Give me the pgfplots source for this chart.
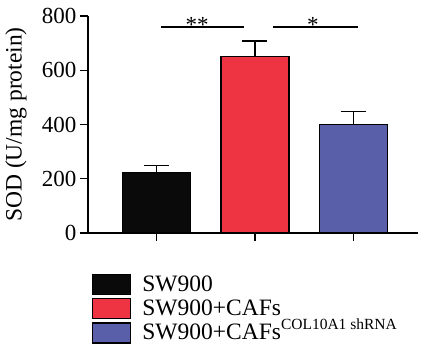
\documentclass[border=0pt]{standalone}
\usepackage{fontspec}
\setmainfont{Liberation Serif}
\usepackage{pgfplots}
\pgfplotsset{compat=1.18}
\definecolor{cblack}{HTML}{0A0A0A}
\definecolor{cred}{HTML}{EE3443}
\definecolor{cblue}{HTML}{5A5FA9}
\begin{document}
\begin{tikzpicture}
\begin{axis}[
  scale only axis, width=330pt, height=217pt,
  xmin=-0.70, xmax=2.66, ymin=0, ymax=800,
  axis x line*=bottom, axis y line*=left,
  axis line style={line width=1.3pt, -},
  xtick={0,1,2}, xticklabels={}, ytick={0,200,400,600,800},
  tick align=outside, major tick length=8pt,
  tick style={line width=1.3pt, black},
  /pgf/number format/assume math mode=true,
  ticklabel style={font=\fontsize{23}{24}\selectfont},
  ylabel={SOD (U/mg protein)},
  every axis y label/.style={at={(axis description cs:-0.218,0.5)}, rotate=90, anchor=center, font=\fontsize{23.5}{25}\selectfont},
  legend image code/.code={\draw[#1, draw=black, line width=1.2pt] (0pt,-8pt) rectangle (38pt,12pt);},
  legend style={at={(axis description cs:0,0)}, anchor=north west, xshift=4pt, yshift=-41pt,
    draw=none, fill=none, inner sep=0pt, font=\fontsize{23.5}{25}\selectfont,
    cells={anchor=west}, row sep=0pt, column sep=8pt,
    nodes={text height=15pt, text depth=6pt, inner ysep=1pt, inner xsep=3pt}},
  legend cell align=left,
]
\addplot[ybar, bar width=68pt, bar shift=0pt, fill=cblack, draw=black, line width=1.2pt,
  error bars/.cd, y dir=plus, y explicit,
  error bar style={line width=1.3pt, black},
  error mark options={black, mark size=12.5pt, line width=1.3pt, rotate=90}]
  coordinates {(0,222) +- (0,28)};
\addlegendentry{SW900}
\addplot[ybar, bar width=68pt, bar shift=0pt, fill=cred, draw=black, line width=1.2pt,
  error bars/.cd, y dir=plus, y explicit,
  error bar style={line width=1.3pt, black},
  error mark options={black, mark size=12.5pt, line width=1.3pt, rotate=90}]
  coordinates {(1,652) +- (0,56)};
\addlegendentry{SW900+CAFs}
\addplot[ybar, bar width=68pt, bar shift=0pt, fill=cblue, draw=black, line width=1.2pt,
  error bars/.cd, y dir=plus, y explicit,
  error bar style={line width=1.3pt, black},
  error mark options={black, mark size=12.5pt, line width=1.3pt, rotate=90}]
  coordinates {(2,400) +- (0,47)};
\addlegendentry{SW900+CAFs\raisebox{10pt}{\fontsize{15.5}{16}\selectfont COL10A1 shRNA}}
\addplot[sharp plot, black, line width=1.3pt, no marks, forget plot] coordinates {(0.04,759) (0.89,759)};
\addplot[sharp plot, black, line width=1.3pt, no marks, forget plot] coordinates {(1.18,759) (2.05,759)};
\node[anchor=south, font=\fontsize{23}{24}\selectfont, inner sep=0pt, yshift=-6pt] at (axis cs:0.41,759) {**};
\node[anchor=south, font=\fontsize{23}{24}\selectfont, inner sep=0pt, yshift=-6pt] at (axis cs:1.59,759) {*};
\end{axis}
\pgfresetboundingbox
\path (-88pt,-119pt) rectangle (333pt,233pt);
\end{tikzpicture}
\end{document}
